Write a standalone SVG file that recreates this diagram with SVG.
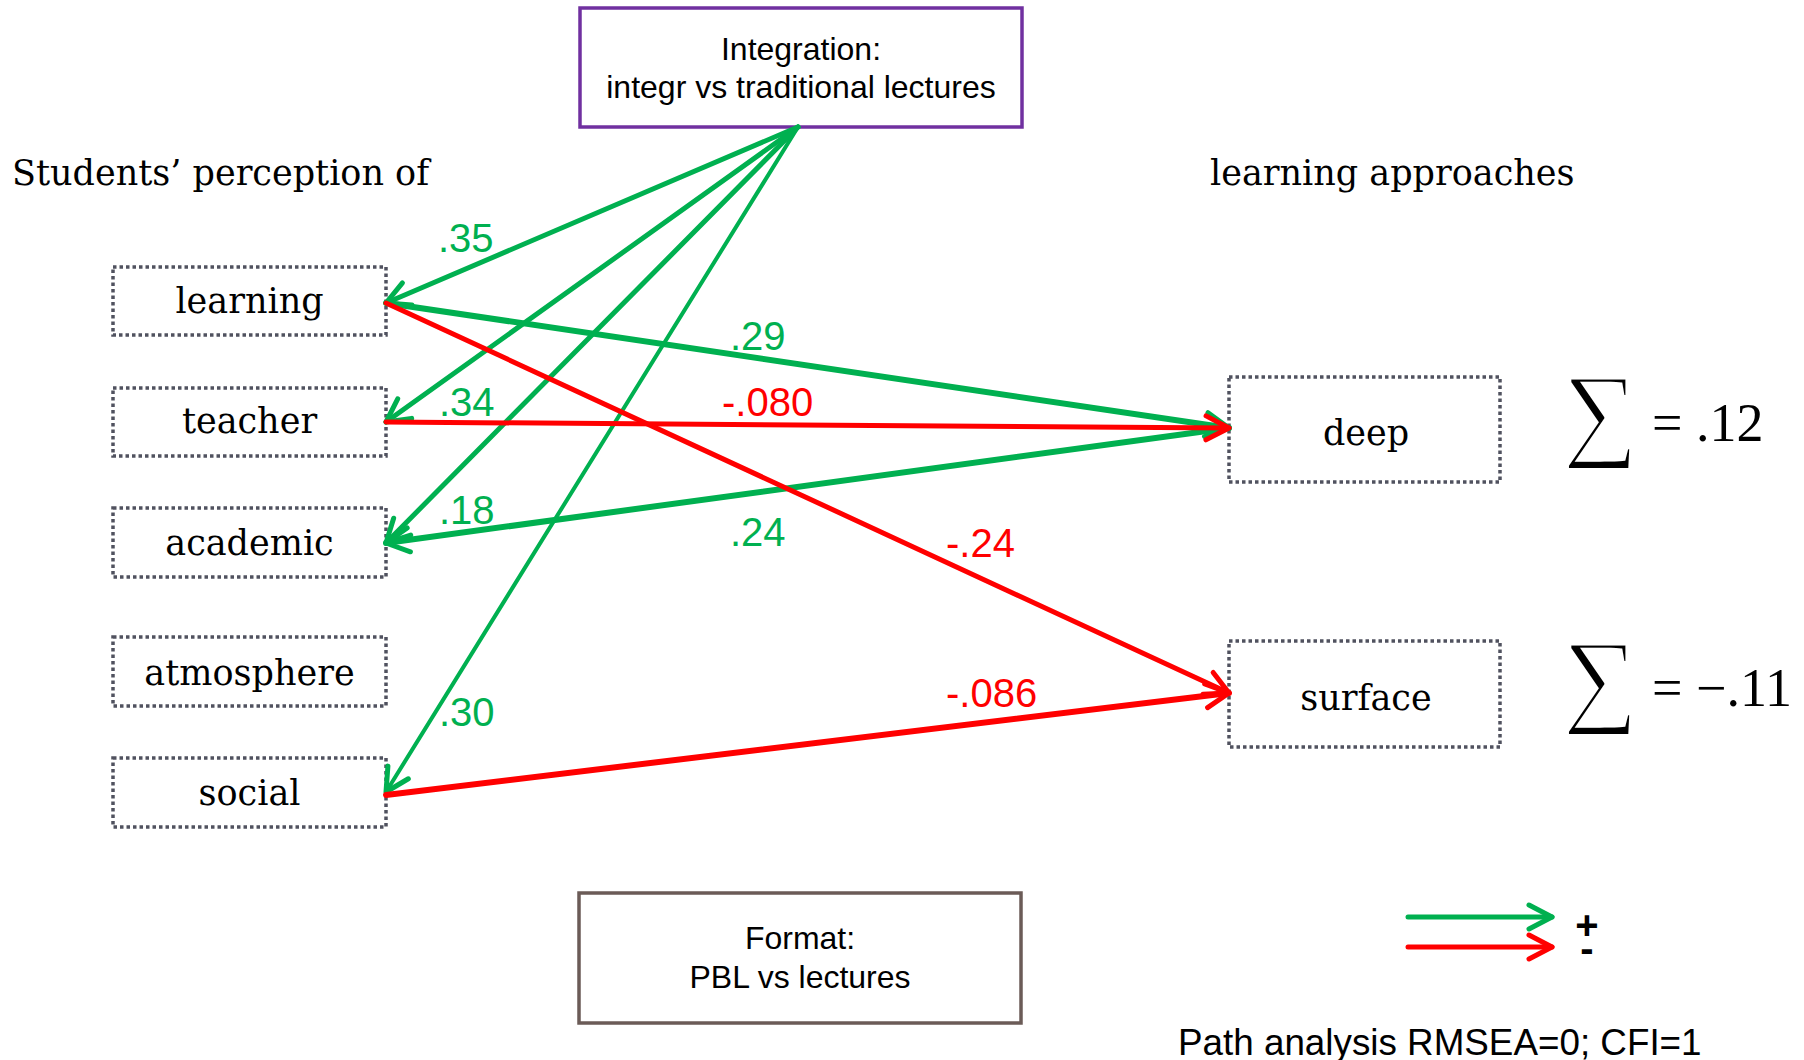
<svg xmlns="http://www.w3.org/2000/svg" width="1804" height="1060" viewBox="0 0 1804 1060">
<style>
.serif{font-family:"DejaVu Serif","Liberation Serif",serif;font-size:35px;fill:#000}
.sans{font-family:"Liberation Sans",Arial,sans-serif;fill:#000}
.dot{fill:#fff;stroke:#50525f;stroke-width:3.5;stroke-dasharray:3.5 3}
.g{stroke:#00b050;fill:none;stroke-linecap:round}
.r{stroke:#ff0000;fill:none;stroke-linecap:round}
.lg{font-family:"Liberation Sans",Arial,sans-serif;font-size:40px;fill:#00b050}
.lr{font-family:"Liberation Sans",Arial,sans-serif;font-size:40px;fill:#ff0000}
.math{font-family:"Liberation Serif","DejaVu Serif",serif;fill:#000}
.sig{font-family:"Liberation Serif","DejaVu Serif",serif;fill:#000;stroke:#fff;stroke-width:2.5}
</style>
<defs>
<marker id="ag" markerUnits="userSpaceOnUse" viewBox="-30 -15 34 30" refX="0" refY="0" markerWidth="34" markerHeight="30" orient="auto" overflow="visible">
<path d="M-23,-12 L0,0 L-23,12" fill="none" stroke="#00b050" stroke-width="5" stroke-linecap="round" stroke-linejoin="round"/>
</marker>
<marker id="ar" markerUnits="userSpaceOnUse" viewBox="-30 -15 34 30" refX="0" refY="0" markerWidth="34" markerHeight="30" orient="auto" overflow="visible">
<path d="M-23,-12 L0,0 L-23,12" fill="none" stroke="#ff0000" stroke-width="5" stroke-linecap="round" stroke-linejoin="round"/>
</marker>
</defs>
<rect width="1804" height="1060" fill="#fff"/>

<text class="serif" x="12" y="185" font-size="35.5">Students’ perception of</text>
<text class="serif" x="1210" y="185">learning approaches</text>

<g id="integration">
<rect x="580" y="8" width="442" height="119" fill="#fff" stroke="#7030a0" stroke-width="3.5"/>
<text class="sans" font-size="32" x="801" y="60" text-anchor="middle">Integration:</text>
<text class="sans" font-size="32" x="801" y="98" text-anchor="middle">integr vs traditional lectures</text>
</g>

<g id="format">
<rect x="579" y="893" width="442" height="130" fill="#fff" stroke="#6b5b57" stroke-width="3.5"/>
<text class="sans" font-size="32" x="800" y="949" text-anchor="middle">Format:</text>
<text class="sans" font-size="32" x="800" y="988" text-anchor="middle">PBL vs lectures</text>
</g>

<g id="learning"><rect class="dot" x="113" y="267" width="273" height="68"/><text class="serif" x="249.5" y="313" text-anchor="middle">learning</text></g>
<g id="teacher"><rect class="dot" x="113" y="388" width="273" height="68"/><text class="serif" x="249.5" y="433" text-anchor="middle">teacher</text></g>
<g id="academic"><rect class="dot" x="113" y="508" width="273" height="69"/><text class="serif" x="249.5" y="555" text-anchor="middle">academic</text></g>
<g id="atmosphere"><rect class="dot" x="113" y="637" width="273" height="69"/><text class="serif" x="249.5" y="685" text-anchor="middle">atmosphere</text></g>
<g id="social"><rect class="dot" x="113" y="758" width="273" height="69"/><text class="serif" x="249.5" y="805" text-anchor="middle">social</text></g>

<g id="deep"><rect class="dot" x="1229" y="377" width="271" height="105"/><text class="serif" x="1366" y="445" text-anchor="middle" font-size="42">deep</text></g>
<g id="surface"><rect class="dot" x="1229" y="641" width="271" height="106"/><text class="serif" x="1366" y="710" text-anchor="middle" font-size="43">surface</text></g>

<g id="sums">
<text class="sig" font-size="105" x="1563" y="447">∑</text>
<text class="math" font-size="54" x="1652" y="441">= .12</text>
<text class="sig" font-size="105" x="1563" y="713">∑</text>
<text class="math" font-size="54" x="1652" y="706">= −.11</text>
</g>

<g id="connectors">
<line class="g" stroke-width="5" x1="798" y1="127" x2="386" y2="303" marker-end="url(#ag)"/>
<line class="g" stroke-width="5" x1="798" y1="127" x2="386" y2="422" marker-end="url(#ag)"/>
<line class="g" stroke-width="5" x1="798" y1="127" x2="386" y2="543" marker-end="url(#ag)"/>
<line class="g" stroke-width="4" x1="798" y1="127" x2="386" y2="792" marker-end="url(#ag)"/>
<line class="g" stroke-width="6" x1="386" y1="303" x2="1229" y2="428" marker-end="url(#ag)"/>
<line class="g" stroke-width="6" x1="1229" y1="428" x2="386" y2="543" marker-end="url(#ag)"/>
<line class="r" stroke-width="5" x1="386" y1="422" x2="1229" y2="428" marker-end="url(#ar)"/>
<line class="r" stroke-width="5" x1="386" y1="303" x2="1229" y2="693" marker-end="url(#ar)"/>
<line class="r" stroke-width="6" x1="386" y1="795" x2="1229" y2="693" marker-end="url(#ar)"/>
</g>

<g id="labels">
<text class="lg" x="438" y="252">.35</text>
<text class="lg" x="439" y="416">.34</text>
<text class="lg" x="439" y="524">.18</text>
<text class="lg" x="439" y="726">.30</text>
<text class="lg" x="730" y="350">.29</text>
<text class="lg" x="730" y="546">.24</text>
<text class="lr" x="722" y="416">-.080</text>
<text class="lr" x="946" y="557">-.24</text>
<text class="lr" x="946" y="707">-.086</text>
</g>

<g id="legend">
<line class="g" stroke-width="5" x1="1408" y1="917" x2="1552" y2="917" marker-end="url(#ag)"/>
<line class="r" stroke-width="5" x1="1408" y1="947" x2="1552" y2="947" marker-end="url(#ar)"/>
<text class="sans" font-size="40" font-weight="bold" text-anchor="middle"><tspan x="1587" y="939">+</tspan><tspan x="1587" y="962">-</tspan></text>
</g>

<text class="sans" font-size="36.8" x="1178" y="1055">Path analysis RMSEA=0; CFI=1</text>
</svg>
